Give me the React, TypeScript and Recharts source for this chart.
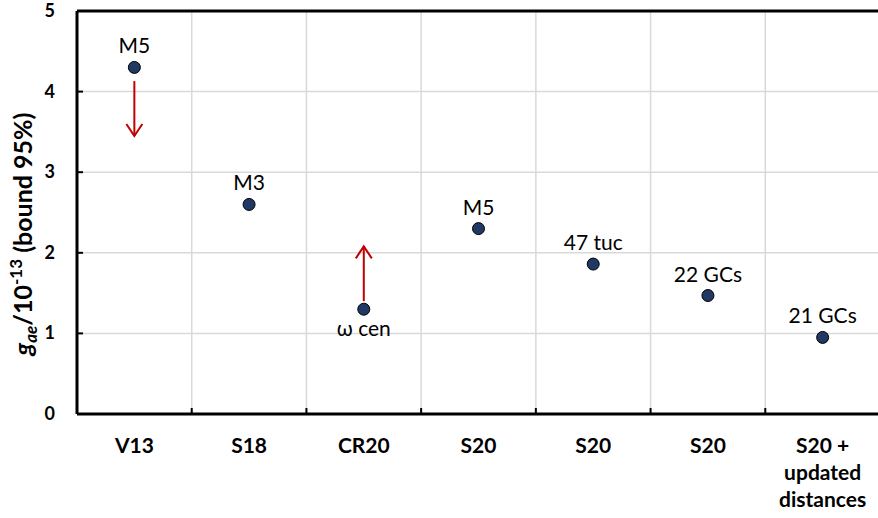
import React from "react";
import { ScatterChart, Scatter, XAxis, YAxis, CartesianGrid, ReferenceLine } from "recharts";

const categories = ["V13", "S18", "CR20", "S20", "S20", "S20", "S20 +\nupdated\ndistances"];
const values = [4.3, 2.6, 1.3, 2.3, 1.86, 1.47, 0.95];
const pointLabels = ["M5", "M3", "ω cen", "M5", "47 tuc", "22 GCs", "21 GCs"];
const labelBelow = [false, false, true, false, false, false, false];
const yTicks = [0, 1, 2, 3, 4, 5];

// upper/lower limit arrows: category index, from, to
const arrowIndex = [0, 2];
const arrowFrom = [4.13, 1.4];
const arrowTo = [3.45, 2.08];

const FONT = "Lato, 'Open Sans', sans-serif";
const RED = "#C00000";
const GRID = "#d9d9d9";

const data = categories.map((c, i) => ({
  x: i + 0.5,
  y: values[i],
  label: pointLabels[i],
  below: labelBelow[i],
}));
const centerTicks = categories.map((_, i) => i + 0.5);
const boundaries = categories.slice(1).map((_, i) => i + 1);
const allXTicks = [...centerTicks, ...boundaries].sort((a, b) => a - b);

const Dot = (props: any) => {
  const { cx, cy, payload } = props;
  const ly = payload.below ? cy + 27 : cy - 14;
  return (
    <g>
      <circle cx={cx} cy={cy} r={6} fill="#1F3864" stroke="#000" strokeWidth={1} />
      <text x={cx} y={ly} textAnchor="middle" fontFamily={FONT} fontSize={21} fill="#000">
        {payload.label}
      </text>
    </g>
  );
};

const XTick = (props: any) => {
  const { x, y, payload } = props;
  const v = payload.value;
  if (Number.isInteger(v)) {
    return <line x1={x} x2={x} y1={y} y2={y - 6} stroke="#000" strokeWidth={2} />;
  }
  const lines = categories[Math.floor(v)].split("\n");
  return (
    <text x={x} y={y + 39} textAnchor="middle" fontFamily={FONT} fontSize={21} fontWeight="bold" fill="#000">
      {lines.map((l, i) => (
        <tspan key={i} x={x} dy={i === 0 ? 0 : 27}>
          {l}
        </tspan>
      ))}
    </text>
  );
};

const YTick = (props: any) => {
  const { x, y, payload } = props;
  return (
    <g>
      <line x1={x} x2={x + 6} y1={y} y2={y} stroke="#000" strokeWidth={2} />
      <text x={x - 22} y={y + 6} textAnchor="end" fontFamily={FONT} fontSize={18} fontWeight="bold" fill="#000">
        {payload.value}
      </text>
    </g>
  );
};

const YTitle = (props: any) => {
  const { viewBox } = props;
  const cx = viewBox.x + 32;
  const cy = 234;
  return (
    <text
      x={cx}
      y={cy}
      transform={`rotate(-90, ${cx}, ${cy})`}
      textAnchor="middle"
      fontFamily={FONT}
      fontSize={25}
      fontWeight="bold"
      fill="#000"
    >
      <tspan fontStyle="italic">g</tspan>
      <tspan fontStyle="italic" fontSize={17} dy={5}>ae</tspan>
      <tspan dy={-5}>/10</tspan>
      <tspan fontSize={17} dy={-10}>-13</tspan>
      <tspan dy={10}> (bound 95%)</tspan>
    </text>
  );
};

const Arrow = (props: any) => {
  const { x1, y1, x2, y2 } = props;
  const dir = y2 > y1 ? 1 : -1;
  return (
    <g>
      <line x1={x1} y1={y1} x2={x2} y2={y2} stroke={RED} strokeWidth={2} />
      <polyline
        points={`${x2 - 8},${y2 - dir * 12} ${x2},${y2} ${x2 + 8},${y2 - dir * 12}`}
        fill="none"
        stroke={RED}
        strokeWidth={2}
      />
    </g>
  );
};

export default function App() {
  return (
    <div style={{ position: "absolute", left: 0, top: 0, width: 878, height: 518, overflow: "hidden", background: "#fff" }}>
      <ScatterChart width={881} height={518} margin={{ top: 11, right: 1, bottom: 0, left: 0 }}>
        <CartesianGrid vertical={false} stroke={GRID} strokeWidth={1.5} />
        {boundaries.map((b) => (
          <ReferenceLine key={b} x={b} stroke={GRID} strokeWidth={1.5} />
        ))}
        <ReferenceLine y={5} stroke="#000" strokeWidth={3} />
        <XAxis
          type="number"
          dataKey="x"
          domain={[0, 7]}
          ticks={allXTicks}
          interval={0}
          tick={<XTick />}
          tickLine={false}
          tickSize={0}
          tickMargin={0}
          height={104}
          axisLine={{ stroke: "#000", strokeWidth: 3 }}
        />
        <YAxis
          type="number"
          dataKey="y"
          domain={[0, 5]}
          ticks={yTicks}
          interval={0}
          tick={<YTick />}
          tickLine={false}
          tickSize={0}
          tickMargin={0}
          width={77}
          axisLine={{ stroke: "#000", strokeWidth: 3 }}
          label={<YTitle />}
        />
        {arrowIndex.map((ci, i) => (
          <ReferenceLine
            key={"a" + i}
            segment={[
              { x: ci + 0.5, y: arrowFrom[i] },
              { x: ci + 0.5, y: arrowTo[i] },
            ]}
            shape={<Arrow />}
          />
        ))}
        <Scatter data={data} shape={<Dot />} isAnimationActive={false} />
      </ScatterChart>
    </div>
  );
}
